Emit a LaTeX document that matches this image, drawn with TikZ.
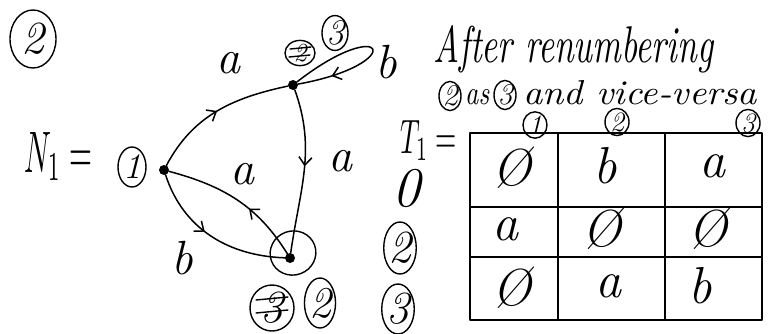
\documentclass[tikz,border=0pt]{standalone}
\usepackage{graphicx}
\usetikzlibrary{decorations.markings,arrows.meta,shapes.geometric}
\newcommand{\hwfit}[3]{\resizebox{#1pt}{#2pt}{#3}}
\tikzset{
  x=1pt,y=1pt,
  pen/.style={line width=1.5pt, line cap=round, line join=round},
  statedot/.style={circle, fill, inner sep=0pt, minimum size=10pt},
  arrowat/.style={postaction={decorate}, decoration={markings,
     mark=at position #1 with {\arrow{Straight Barb[length=8pt,width=13pt,line width=1.5pt]}}}},
  hand/.style={inner sep=0pt, font=\fontsize{48}{48}\selectfont\itshape},
  celltext/.style={inner sep=0pt, font=\fontsize{52}{52}\selectfont\itshape},
  ring/.style={draw, ellipse, line width=1.4pt, inner sep=0pt},
  strike/.style={line width=1.4pt, line cap=round},
}
\begin{document}
\begin{tikzpicture}
\useasboundingbox (0,0) rectangle (774,-333);

% problem number
\node[ring, minimum width=46pt, minimum height=58pt, font=\fontsize{46}{46}\selectfont\itshape] (pnum) at (33,-39) {2};

% N_1 =
\node[inner sep=0pt, anchor=base west] (nlabel) at (24,-172) {\hwfit{68}{40}{$N_1 =$}};

% states
\node[statedot] (n1) at (164,-170) {};
\node[statedot] (n2) at (293,-85) {};
\node[statedot] (n3) at (290,-258) {};

% state numbering
\node[ring, minimum width=28pt, minimum height=40pt, font=\fontsize{36}{36}\selectfont\itshape] (r1) at (132,-167) {1};
\node[ring, minimum width=30pt, minimum height=24pt, font=\fontsize{26}{26}\selectfont\itshape] (r2old) at (300,-53) {2};
\draw[strike] (290,-49) -- (311,-47);
\draw[strike] (289,-57) -- (310,-55);
\node[ring, minimum width=26pt, minimum height=34pt, font=\fontsize{36}{36}\selectfont\itshape] (r2new) at (335,-33) {3};
\node[ring, minimum width=46pt, minimum height=44pt, rotate=20] (r3dot) at (293,-253) {};
\node[ring, minimum width=44pt, minimum height=46pt, font=\fontsize{46}{46}\selectfont\itshape] (r3old) at (272,-308) {3};
\draw[strike] (256,-300) -- (288,-297);
\draw[strike] (256,-313) -- (288,-310);
\node[ring, minimum width=26pt, minimum height=50pt, font=\fontsize{44}{44}\selectfont\itshape] (r3new) at (320,-303) {2};

% transitions
\draw[pen, arrowat=0.5] (n1) to[out=62, in=192] (n2);
\draw[pen, arrowat=0.47] (n2) to[out=-70, in=82] (n3);
\draw[pen, arrowat=0.4] (n3) to[out=122, in=-15] (n1);
\draw[pen, arrowat=0.45] (n1) to[out=-72, in=178] (n3);
\draw[pen, arrowat=0.8] (n2) .. controls (387,-12) and (409,-64) .. (n2);

% transition labels
\node[hand] (la1) at (228,-63) {a};
\node[hand] (la2) at (340,-161) {a};
\node[hand] (la3) at (242,-174) {a};
\node[hand] (lb1) at (182,-258) {b};
\node[hand] (lb2) at (386,-62) {b};

% heading text
\node[inner sep=0pt, anchor=base west] (head1) at (433,-62) {\hwfit{280}{37}{\itshape After renumbering}};
\node[ring, minimum width=22pt, minimum height=28pt, font=\fontsize{30}{30}\selectfont\itshape] (h2) at (450,-96) {2};
\node[inner sep=0pt, anchor=base west] (has) at (465,-104) {\hwfit{24}{15}{\itshape as}};
\node[ring, minimum width=22pt, minimum height=28pt, font=\fontsize{30}{30}\selectfont\itshape] (h3) at (505,-95) {3};
\node[inner sep=0pt, anchor=base west] (hvv) at (523,-104) {\hwfit{234}{24}{\itshape and vice-versa}};

% T_1 =
\node[inner sep=0pt, anchor=base west] (tlabel) at (400,-153) {\hwfit{57}{33}{$T_1 =$}};

% table grid
\draw[pen] (470,-133) rectangle (762,-320);
\draw[pen] (558,-133) -- (558,-320);
\draw[pen] (665,-133) -- (665,-320);
\draw[pen] (470,-207) -- (762,-207);
\draw[pen] (470,-257) -- (762,-257);

% column headers
\node[ring, minimum width=24pt, minimum height=26pt, font=\fontsize{28}{28}\selectfont\itshape] (c1) at (535,-125) {1};
\node[ring, minimum width=24pt, minimum height=26pt, font=\fontsize{28}{28}\selectfont\itshape] (c2) at (617,-122) {2};
\node[ring, minimum width=24pt, minimum height=26pt, font=\fontsize{28}{28}\selectfont\itshape] (c3) at (748,-123) {3};

% row headers
\node[inner sep=0pt, font=\fontsize{56}{56}\selectfont\itshape] (w0) at (406,-188) {0};
\node[ring, minimum width=28pt, minimum height=52pt, font=\fontsize{46}{46}\selectfont\itshape] (w2) at (400,-248) {2};
\node[ring, minimum width=28pt, minimum height=50pt, font=\fontsize{46}{46}\selectfont\itshape] (w3) at (398,-309) {3};

% cells
\node[celltext] (t11) at (512,-168) {\O};
\node[celltext] (t12) at (605,-166) {b};
\node[celltext] (t13) at (712,-166) {a};
\node[celltext] (t21) at (505,-229) {a};
\node[celltext] (t22) at (602,-229) {\O};
\node[celltext] (t23) at (708,-229) {\O};
\node[celltext] (t31) at (512,-288) {\O};
\node[celltext] (t32) at (608,-286) {a};
\node[celltext] (t33) at (700,-286) {b};
\end{tikzpicture}
\end{document}
